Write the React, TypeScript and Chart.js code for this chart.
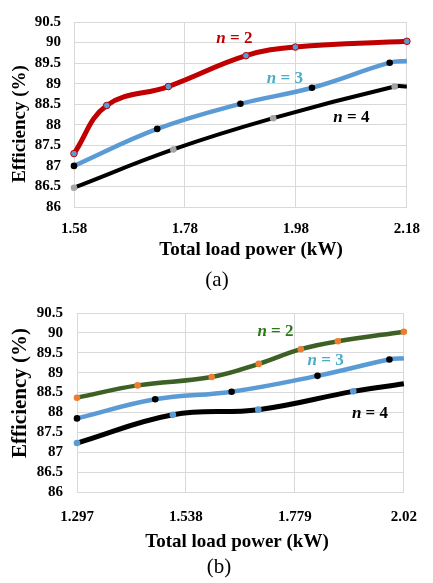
import React, { useEffect, useRef } from 'react';
import { Chart, registerables } from 'chart.js';
Chart.register(...registerables);

const SERIF = '"Liberation Serif", "Times New Roman", serif';

// ---------- shared y axis ----------
const yTicks = [86, 86.5, 87, 87.5, 88, 88.5, 89, 89.5, 90, 90.5];
const yTickLabels = ['86', '86.5', '87', '87.5', '88', '88.5', '89', '89.5', '90', '90.5'];

// ---------- chart (a) ----------
const aXTicks = [1.58, 1.78, 1.98, 2.18];
const aXTickLabels = ['1.58', '1.78', '1.98', '2.18'];

const aN2X = [1.58, 1.639, 1.75, 1.89, 1.979, 2.18];
const aN2Y = [87.3, 88.47, 88.93, 89.68, 89.89, 90.03];
const aN2Marked = [1, 1, 1, 1, 1, 1];

const aN3X = [1.58, 1.73, 1.88, 2.009, 2.149, 2.18];
const aN3Y = [87.0, 87.9, 88.51, 88.9, 89.51, 89.55];
const aN3Marked = [1, 1, 1, 1, 1, 0];

const aN4X = [1.58, 1.759, 1.939, 2.158, 2.18];
const aN4Y = [86.47, 87.4, 88.16, 88.93, 88.93];
const aN4Marked = [1, 1, 1, 1, 0];

const aLabelN = ['2', '3', '4'];
const aLabelX = [1.869, 1.96, 2.08];
const aLabelY = [90.09, 89.13, 88.18];

// ---------- chart (b) ----------
const bXTicks = [1.297, 1.538, 1.779, 2.02];
const bXTickLabels = ['1.297', '1.538', '1.779', '2.02'];

const bN2X = [1.297, 1.431, 1.595, 1.699, 1.792, 1.874, 2.02];
const bN2Y = [88.37, 88.68, 88.89, 89.22, 89.59, 89.79, 90.03];
const bN2Marked = [1, 1, 1, 1, 1, 1, 1];

const bN3X = [1.297, 1.47, 1.639, 1.829, 1.988, 2.02];
const bN3Y = [87.85, 88.33, 88.52, 88.92, 89.33, 89.36];
const bN3Marked = [1, 1, 1, 1, 1, 0];

const bN4X = [1.297, 1.509, 1.698, 1.908, 2.02];
const bN4Y = [87.23, 87.94, 88.07, 88.53, 88.72];
const bN4Marked = [1, 1, 1, 1, 0];

const bLabelN = ['2', '3', '4'];
const bLabelX = [1.736, 1.847, 1.945];
const bLabelY = [90.02, 89.3, 87.97];

type Series = {
  xs: number[]; ys: number[]; marked: number[];
  line: string; width: number; fill: string; border: string; borderW: number;
};

type Spec = {
  height: number;
  padTop: number; padRight: number;
  yAxisW: number; xAxisH: number;
  xMin: number; xMax: number; xTicks: number[]; xTickLabels: string[];
  xTickPad: number; yTickPad: number;
  series: Series[];
  labelN: string[]; labelX: number[]; labelY: number[]; labelColors: string[];
  yTitlePos: [number, number]; yTitleSize: number;
  xTitlePos: [number, number]; xTitleSize: number;
  caption: string; captionPos: [number, number];
};

function overlay(spec: Spec) {
  return {
    id: 'overlay',
    afterDraw(chart: any) {
      const ctx = chart.ctx as CanvasRenderingContext2D;
      const xs = chart.scales.x;
      const ys = chart.scales.y;
      ctx.save();
      ctx.fillStyle = '#000';
      ctx.textAlign = 'center';
      ctx.textBaseline = 'middle';
      // y title
      ctx.save();
      ctx.translate(spec.yTitlePos[0], spec.yTitlePos[1]);
      ctx.rotate(-Math.PI / 2);
      ctx.font = `bold ${spec.yTitleSize}px ${SERIF}`;
      ctx.fillText('Efficiency (%)', 0, 0);
      ctx.restore();
      // x title
      ctx.font = `bold ${spec.xTitleSize}px ${SERIF}`;
      ctx.fillText('Total load power (kW)', spec.xTitlePos[0], spec.xTitlePos[1]);
      // caption
      ctx.font = `21px ${SERIF}`;
      ctx.fillText(spec.caption, spec.captionPos[0], spec.captionPos[1]);
      // series labels
      ctx.textAlign = 'left';
      spec.labelN.forEach((n, i) => {
        const px = xs.getPixelForValue(spec.labelX[i]);
        const py = ys.getPixelForValue(spec.labelY[i]);
        const fItal = `italic bold 17px ${SERIF}`;
        const fBold = `bold 17px ${SERIF}`;
        ctx.font = fItal;
        const w1 = ctx.measureText('n').width;
        ctx.font = fBold;
        const rest = ' = ' + n;
        const w2 = ctx.measureText(rest).width;
        const x0 = px - (w1 + w2) / 2;
        ctx.fillStyle = spec.labelColors[i];
        ctx.font = fItal;
        ctx.fillText('n', x0, py);
        ctx.font = fBold;
        ctx.fillText(rest, x0 + w1, py);
      });
      ctx.restore();
    },
  };
}

function makeConfig(spec: Spec): any {
  const tickFont = { family: SERIF, size: 15, weight: 'bold' as const };
  return {
    type: 'line',
    data: {
      datasets: spec.series.map((s) => ({
        data: s.xs.map((x, i) => ({ x, y: s.ys[i] })),
        borderColor: s.line,
        borderWidth: s.width,
        tension: 0.4,
        fill: false,
        clip: 6,
        pointRadius: s.marked.map((m) => (m ? 3.3 : 0)),
        pointHoverRadius: s.marked.map((m) => (m ? 3.3 : 0)),
        pointBackgroundColor: s.fill,
        pointBorderColor: s.border,
        pointBorderWidth: s.borderW,
      })),
    },
    options: {
      responsive: false,
      animation: false,
      events: [],
      layout: { padding: { top: spec.padTop, right: spec.padRight, left: 0, bottom: 0 } },
      plugins: { legend: { display: false }, tooltip: { enabled: false } },
      scales: {
        x: {
          type: 'linear',
          min: spec.xMin,
          max: spec.xMax,
          afterBuildTicks: (sc: any) => { sc.ticks = spec.xTicks.map((v) => ({ value: v })); },
          afterFit: (sc: any) => { sc.height = spec.xAxisH; },
          ticks: {
            callback: (_v: any, i: number) => spec.xTickLabels[i],
            font: tickFont, color: '#000', padding: spec.xTickPad,
            maxRotation: 0, autoSkip: false,
          },
          grid: { color: '#d9d9d9', lineWidth: 1, drawTicks: false },
          border: { display: true, color: '#d9d9d9' },
        },
        y: {
          type: 'linear',
          min: 86,
          max: 90.5,
          afterBuildTicks: (sc: any) => { sc.ticks = yTicks.map((v) => ({ value: v })); },
          afterFit: (sc: any) => { sc.width = spec.yAxisW; },
          ticks: {
            callback: (_v: any, i: number) => yTickLabels[i],
            font: tickFont, color: '#000', padding: spec.yTickPad, autoSkip: false,
          },
          grid: { color: '#d9d9d9', lineWidth: 1, drawTicks: false },
          border: { display: true, color: '#d9d9d9' },
        },
      },
    },
    plugins: [overlay(spec)],
  };
}

const specA: Spec = {
  height: 290,
  padTop: 13, padRight: 18, yAxisW: 74, xAxisH: 83,
  xMin: 1.58, xMax: 2.18, xTicks: aXTicks, xTickLabels: aXTickLabels,
  xTickPad: 13, yTickPad: 13,
  series: [
    { xs: aN4X, ys: aN4Y, marked: aN4Marked, line: '#000000', width: 4, fill: '#a5a5a5', border: '#a5a5a5', borderW: 0 },
    { xs: aN3X, ys: aN3Y, marked: aN3Marked, line: '#5b9bd5', width: 4.5, fill: '#000000', border: '#000000', borderW: 0 },
    { xs: aN2X, ys: aN2Y, marked: aN2Marked, line: '#c00000', width: 5, fill: '#5b9bd5', border: '#c00000', borderW: 1 },
  ],
  labelN: aLabelN, labelX: aLabelX, labelY: aLabelY,
  labelColors: ['#c00000', '#4bacc6', '#000000'],
  yTitlePos: [20, 124], yTitleSize: 19,
  xTitlePos: [251, 250], xTitleSize: 19,
  caption: '(a)', captionPos: [217, 280],
};

const specB: Spec = {
  height: 293,
  padTop: 15, padRight: 17, yAxisW: 77, xAxisH: 91,
  xMin: 1.297, xMax: 2.02, xTicks: bXTicks, xTickLabels: bXTickLabels,
  xTickPad: 16, yTickPad: 14,
  series: [
    { xs: bN4X, ys: bN4Y, marked: bN4Marked, line: '#000000', width: 5, fill: '#5b9bd5', border: '#5b9bd5', borderW: 0 },
    { xs: bN3X, ys: bN3Y, marked: bN3Marked, line: '#5b9bd5', width: 4.5, fill: '#000000', border: '#000000', borderW: 0 },
    { xs: bN2X, ys: bN2Y, marked: bN2Marked, line: '#3d6125', width: 4.5, fill: '#ed7d31', border: '#ed7d31', borderW: 0 },
  ],
  labelN: bLabelN, labelX: bLabelX, labelY: bLabelY,
  labelColors: ['#2a7a14', '#4bacc6', '#000000'],
  yTitlePos: [21, 103], yTitleSize: 21,
  xTitlePos: [237, 252], xTitleSize: 19,
  caption: '(b)', captionPos: [219, 277],
};

function ChartBox({ spec }: { spec: Spec }) {
  const ref = useRef<HTMLCanvasElement | null>(null);
  useEffect(() => {
    if (!ref.current) return;
    const chart = new Chart(ref.current, makeConfig(spec));
    return () => chart.destroy();
  }, [spec]);
  return (
    <div style={{ width: 433, height: spec.height, position: 'relative' }}>
      <canvas ref={ref} width={433} height={spec.height} style={{ display: 'block' }} />
    </div>
  );
}

export default function App() {
  return (
    <div style={{ position: 'absolute', left: 0, top: 0, width: 433, height: 583, background: '#fff' }}>
      <ChartBox spec={specA} />
      <ChartBox spec={specB} />
    </div>
  );
}
